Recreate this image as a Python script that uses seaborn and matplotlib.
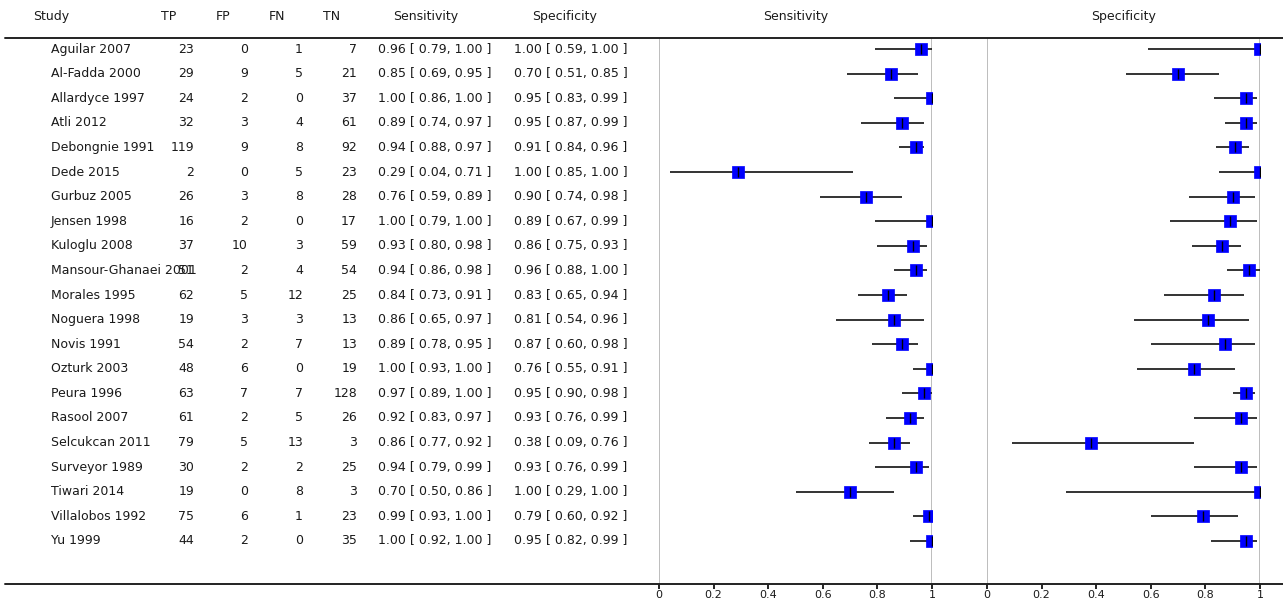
import matplotlib
matplotlib.use("Agg")
import matplotlib.pyplot as plt
import seaborn as sns
import pandas as pd
from matplotlib.lines import Line2D

# Datos del forest plot
studies = ["Aguilar 2007", "Al-Fadda 2000", "Allardyce 1997", "Atli 2012", "Debongnie 1991",
           "Dede 2015", "Gurbuz 2005", "Jensen 1998", "Kuloglu 2008", "Mansour-Ghanaei 2001",
           "Morales 1995", "Noguera 1998", "Novis 1991", "Ozturk 2003", "Peura 1996",
           "Rasool 2007", "Selcukcan 2011", "Surveyor 1989", "Tiwari 2014", "Villalobos 1992",
           "Yu 1999"]
tp = [23, 29, 24, 32, 119, 2, 26, 16, 37, 51, 62, 19, 54, 48, 63, 61, 79, 30, 19, 75, 44]
fp = [0, 9, 2, 3, 9, 0, 3, 2, 10, 2, 5, 3, 2, 6, 7, 2, 5, 2, 0, 6, 2]
fn = [1, 5, 0, 4, 8, 5, 8, 0, 3, 4, 12, 3, 7, 0, 7, 5, 13, 2, 8, 1, 0]
tn = [7, 21, 37, 61, 92, 23, 28, 17, 59, 54, 25, 13, 13, 19, 128, 26, 3, 25, 3, 23, 35]

sens = [0.96, 0.85, 1.00, 0.89, 0.94, 0.29, 0.76, 1.00, 0.93, 0.94, 0.84, 0.86, 0.89, 1.00,
        0.97, 0.92, 0.86, 0.94, 0.70, 0.99, 1.00]
sens_lo = [0.79, 0.69, 0.86, 0.74, 0.88, 0.04, 0.59, 0.79, 0.80, 0.86, 0.73, 0.65, 0.78, 0.93,
           0.89, 0.83, 0.77, 0.79, 0.50, 0.93, 0.92]
sens_hi = [1.00, 0.95, 1.00, 0.97, 0.97, 0.71, 0.89, 1.00, 0.98, 0.98, 0.91, 0.97, 0.95, 1.00,
           1.00, 0.97, 0.92, 0.99, 0.86, 1.00, 1.00]

spec = [1.00, 0.70, 0.95, 0.95, 0.91, 1.00, 0.90, 0.89, 0.86, 0.96, 0.83, 0.81, 0.87, 0.76,
        0.95, 0.93, 0.38, 0.93, 1.00, 0.79, 0.95]
spec_lo = [0.59, 0.51, 0.83, 0.87, 0.84, 0.85, 0.74, 0.67, 0.75, 0.88, 0.65, 0.54, 0.60, 0.55,
           0.90, 0.76, 0.09, 0.76, 0.29, 0.60, 0.82]
spec_hi = [1.00, 0.85, 0.99, 0.99, 0.96, 1.00, 0.98, 0.99, 0.93, 1.00, 0.94, 0.96, 0.98, 0.91,
           0.98, 0.99, 0.76, 0.99, 1.00, 0.92, 0.99]

ticks = [0, 0.2, 0.4, 0.6, 0.8, 1]
tick_labels = ["0", "0.2", "0.4", "0.6", "0.8", "1"]

df = pd.DataFrame({"study": studies, "row": range(len(studies)),
                   "sens": sens, "sens_lo": sens_lo, "sens_hi": sens_hi,
                   "spec": spec, "spec_lo": spec_lo, "spec_hi": spec_hi})

sns.set_style("white")
plt.rcParams["font.family"] = ["DejaVu Sans"]
FS = 9
TXT = "#1a1a1a"

W, H = 1283, 601
fig = plt.figure(figsize=(W / 100, H / 100), dpi=100)

top_px, bot_px = 38, 584
ylim = (21.75, -0.45)
ax_h = (bot_px - top_px) / H
ax_b = (H - bot_px) / H

# Tabla de la izquierda (coordenadas x en pixeles)
ax_tab = fig.add_axes([0, ax_b, 659 / W, ax_h])
ax_tab.set_xlim(0, 659)
ax_tab.set_ylim(*ylim)
ax_tab.axis("off")

y_head = -1.34
ax_tab.text(33, y_head, "Study", fontsize=FS, va="center", ha="left", color=TXT)
for x, lab in [(169, "TP"), (223, "FP"), (277, "FN"), (332, "TN"),
               (426, "Sensitivity"), (565, "Specificity")]:
    ax_tab.text(x, y_head, lab, fontsize=FS, va="center", ha="center", color=TXT)

for i, r in df.iterrows():
    y = r["row"]
    ax_tab.text(51, y, r["study"], fontsize=FS, va="center", ha="left", color=TXT)
    ax_tab.text(194, y, str(tp[i]), fontsize=FS, va="center", ha="right", color=TXT)
    ax_tab.text(248, y, str(fp[i]), fontsize=FS, va="center", ha="right", color=TXT)
    ax_tab.text(303, y, str(fn[i]), fontsize=FS, va="center", ha="right", color=TXT)
    ax_tab.text(357, y, str(tn[i]), fontsize=FS, va="center", ha="right", color=TXT)
    ax_tab.text(378, y, f"{r['sens']:.2f} [ {r['sens_lo']:.2f}, {r['sens_hi']:.2f} ]",
                fontsize=FS, va="center", ha="left", color=TXT)
    ax_tab.text(514, y, f"{r['spec']:.2f} [ {r['spec_lo']:.2f}, {r['spec_hi']:.2f} ]",
                fontsize=FS, va="center", ha="left", color=TXT)

# Paneles de forest plot
panels = [(659, "sens", "Sensitivity"), (987, "spec", "Specificity")]
for left_px, col, title in panels:
    ax = fig.add_axes([left_px / W, ax_b, 273 / W, ax_h])
    ax.set_xlim(0, 1)
    ax.set_ylim(*ylim)
    for s in ["top", "right", "left", "bottom"]:
        ax.spines[s].set_visible(False)
    ax.axvline(0, color="#bdbdbd", lw=1.4, zorder=0)
    ax.axvline(1, color="#bdbdbd", lw=1.4, zorder=0)
    ax.hlines(df["row"], df[col + "_lo"], df[col + "_hi"], color="#111111", lw=1.2, zorder=1)
    sns.scatterplot(data=df, x=col, y="row", marker="s", s=85, color="#0000ff",
                    edgecolor="#0000ff", linewidth=0.5, ax=ax, zorder=2)
    sns.scatterplot(data=df, x=col, y="row", marker="|", s=50, color="black",
                    linewidth=1.0, ax=ax, zorder=3)
    ax.set_xlabel("")
    ax.set_ylabel("")
    ax.set_yticks([])
    ax.set_xticks(ticks)
    ax.set_xticklabels(tick_labels)
    ax.tick_params(axis="x", direction="out", length=3.5, width=1.2, color="black",
                   labelsize=8, labelcolor=TXT, pad=1, bottom=True)
    ax.text(0.5, y_head, title, fontsize=FS, va="center", ha="center", color=TXT)

# Lineas horizontales superior e inferior
fig.add_artist(Line2D([5 / W, 1], [(H - top_px) / H] * 2, color="#222222", lw=1.4,
                      transform=fig.transFigure))
fig.add_artist(Line2D([5 / W, 1], [ax_b] * 2, color="#222222", lw=1.4,
                      transform=fig.transFigure))

fig.savefig("out.png", dpi=100)
